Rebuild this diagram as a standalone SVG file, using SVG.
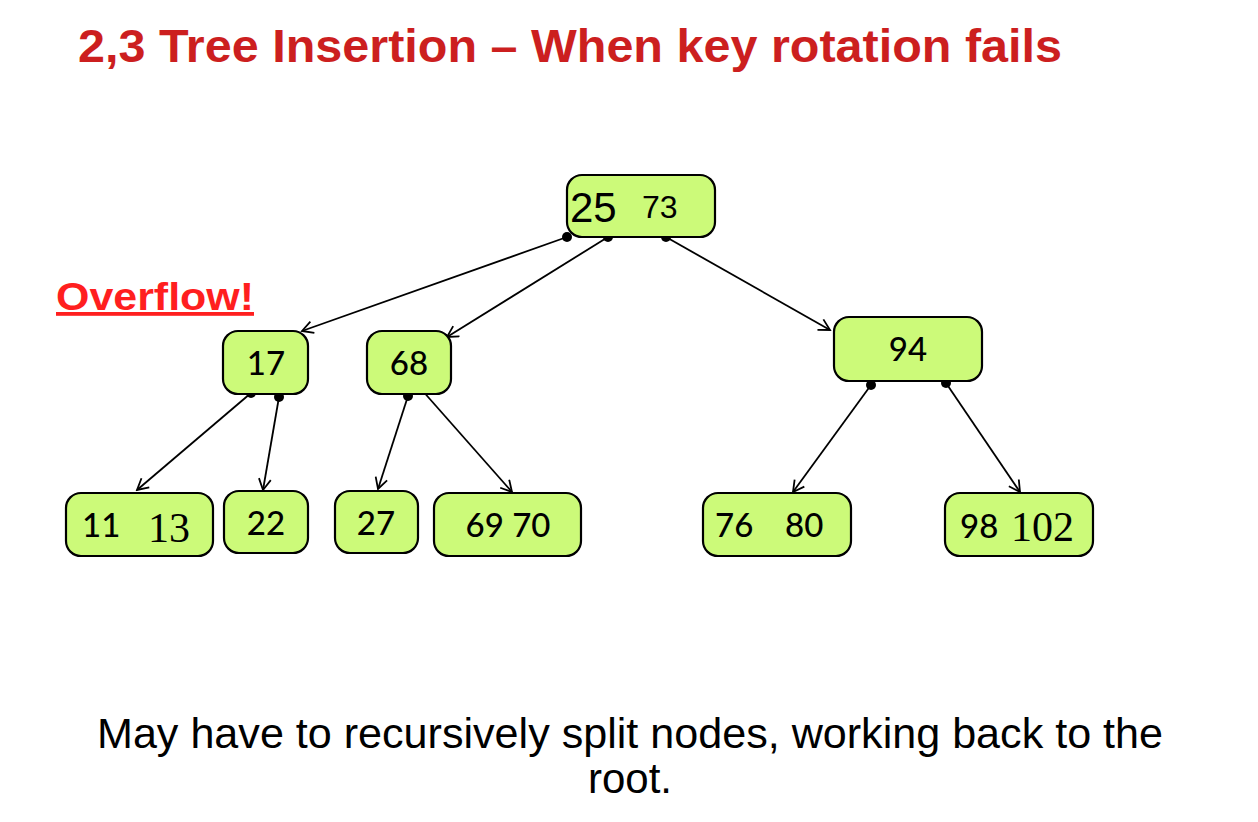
<svg xmlns="http://www.w3.org/2000/svg" width="1258" height="822" viewBox="0 0 1258 822">
<defs>
<marker id="ah" markerWidth="14" markerHeight="14" refX="12" refY="7" orient="auto" markerUnits="userSpaceOnUse">
<path d="M1,1 L12,7 L1,13" fill="none" stroke="#000" stroke-width="1.8"/>
</marker>
<style>
.nd{fill:#ccfa79;stroke:#000;stroke-width:2.2}
.k{font-family:Lato,"Open Sans",sans-serif;font-size:33px;font-weight:500;fill:#000}
.s{font-family:"Liberation Serif",serif;font-size:42px;fill:#000}
.e{stroke:#000;stroke-width:1.8;fill:none;marker-end:url(#ah)}
.d{fill:#000}
</style>
</defs>
<rect width="1258" height="822" fill="#fff"/>
<text x="78" y="62" font-family="Liberation Sans,Arial,sans-serif" font-weight="bold" font-size="47" fill="#cc1f1f" textLength="984" lengthAdjust="spacingAndGlyphs">2,3 Tree Insertion – When key rotation fails</text>
<text x="56" y="310" font-family="Liberation Sans,Arial,sans-serif" font-weight="bold" font-size="38" fill="#ff1f1f" text-decoration="underline" textLength="198" lengthAdjust="spacingAndGlyphs">Overflow!</text>

<g id="connectors">
<line class="e" x1="567" y1="237" x2="302" y2="331"/>
<line class="e" x1="608" y1="237" x2="447" y2="337"/>
<line class="e" x1="666" y1="237" x2="830" y2="330"/>
<line class="e" x1="251" y1="393" x2="137" y2="490"/>
<line class="e" x1="279" y1="397" x2="263" y2="490"/>
<line class="e" x1="408" y1="396" x2="378" y2="489"/>
<line class="e" x1="421" y1="389" x2="512" y2="492"/>
<line class="e" x1="871" y1="385" x2="793" y2="492"/>
<line class="e" x1="946" y1="383" x2="1020" y2="492"/>
<circle class="d" cx="567" cy="237" r="5"/>
<circle class="d" cx="608" cy="237" r="5"/>
<circle class="d" cx="666" cy="237" r="5"/>
<circle class="d" cx="251" cy="393" r="5"/>
<circle class="d" cx="279" cy="397" r="5"/>
<circle class="d" cx="408" cy="396" r="5"/>
<circle class="d" cx="421" cy="389" r="5"/>
<circle class="d" cx="871" cy="385" r="5"/>
<circle class="d" cx="946" cy="383" r="5"/>
</g>

<g id="n-root">
<rect class="nd" x="567" y="175" width="148" height="62" rx="15"/>
<text x="570" y="222" font-family="Liberation Sans,Arial,sans-serif" font-size="42">25</text>
<text x="642" y="218" font-family="Liberation Sans,Arial,sans-serif" font-size="32">73</text>
</g>
<g id="n-17">
<rect class="nd" x="223" y="331" width="85" height="63" rx="15"/>
<text class="k" x="266" y="375" text-anchor="middle">17</text>
</g>
<g id="n-68">
<rect class="nd" x="367" y="331" width="84" height="63" rx="15"/>
<text class="k" x="409" y="375" text-anchor="middle">68</text>
</g>
<g id="n-94">
<rect class="nd" x="834" y="317" width="148" height="64" rx="15"/>
<text class="k" x="908" y="361" text-anchor="middle">94</text>
</g>
<g id="n-11-13">
<rect class="nd" x="66" y="493" width="147" height="63" rx="15"/>
<text class="k" x="82" y="537">11</text>
<text class="s" x="148" y="542">13</text>
</g>
<g id="n-22">
<rect class="nd" x="224" y="491" width="84" height="62" rx="15"/>
<text class="k" x="266" y="535" text-anchor="middle">22</text>
</g>
<g id="n-27">
<rect class="nd" x="335" y="491" width="83" height="62" rx="15"/>
<text class="k" x="376" y="535" text-anchor="middle">27</text>
</g>
<g id="n-69-70">
<rect class="nd" x="434" y="493" width="147" height="63" rx="15"/>
<text class="k" x="508" y="537" text-anchor="middle">69 70</text>
</g>
<g id="n-76-80">
<rect class="nd" x="703" y="493" width="148" height="63" rx="15"/>
<text class="k" x="715" y="537">76</text>
<text class="k" x="785" y="537">80</text>
</g>
<g id="n-98-102">
<rect class="nd" x="945" y="493" width="148" height="63" rx="15"/>
<text class="k" x="960" y="538">98</text>
<text class="s" x="1011" y="541">102</text>
</g>

<text x="630" y="748" text-anchor="middle" font-family="Liberation Sans,Arial,sans-serif" font-size="42" fill="#000" textLength="1066" lengthAdjust="spacingAndGlyphs">May have to recursively split nodes, working back to the</text>
<text x="630" y="793" text-anchor="middle" font-family="Liberation Sans,Arial,sans-serif" font-size="42" fill="#000">root.</text>
</svg>
